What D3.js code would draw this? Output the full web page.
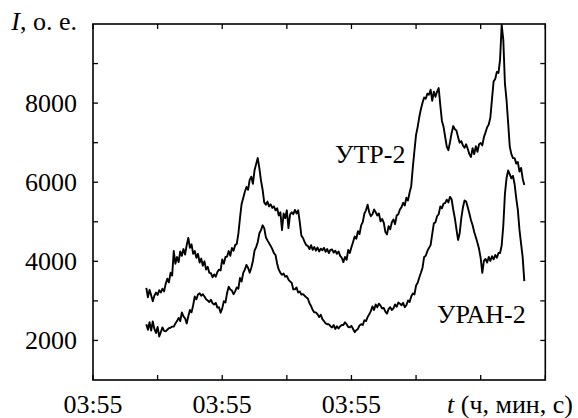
<!DOCTYPE html>
<html><head><meta charset="utf-8"><script src="https://cdn.jsdelivr.net/npm/d3@7"></script></head>
<body style="margin:0">
<svg id="s" width="578" height="418"></svg>
<script>
// ---- data ----
const seriesNames = ["УТР-2", "УРАН-2"];
const timeStart = 8.25;   // axis units (10 units per tick interval)
const timeStep = 0.25;
const utr2 = [
  3330, 3090, 3280, 3140, 2990, 3130, 3210, 3150, 3270, 3210,
  3310, 3240, 3430, 3560, 3470, 3710, 3640, 4260, 3940, 4110,
  3980, 4250, 4140, 4310, 4170, 4410, 4590, 4340, 4430, 4190,
  4260, 4090, 4190, 3970, 4070, 3890, 4000, 3790, 3860, 3710,
  3700, 3600, 3670, 3610, 3730, 3790, 3770, 4050, 3940, 4110,
  4120, 4260, 4140, 4340, 4270, 4410, 4440, 4700, 5100, 5450,
  5600, 5760, 5880, 5810, 6060, 6140, 5960, 6300, 6460, 6610,
  6350, 6040, 5810, 5490, 5430, 5510, 5390, 5440, 5350, 5390,
  5290, 5340, 5160, 5240, 4790, 5210, 5090, 5290, 4840, 5180,
  5240, 5190, 5300, 5210, 5290, 4990, 4650, 4590, 4490, 4410,
  4390, 4310, 4410, 4290, 4360, 4270, 4350, 4250, 4320, 4280,
  4340, 4240, 4310, 4210, 4290, 4300, 4220, 4270, 4190, 4250,
  4140, 4090, 3980, 4110, 4040, 4290, 4210, 4360, 4490, 4630,
  4570, 4760, 4690, 4910, 4990, 5210, 5290, 5430, 5240, 5140,
  5190, 5310, 5240, 5160, 5210, 5010, 5070, 4980, 4740, 4680,
  4890, 4810, 4990, 5060, 4940, 5160, 5190, 5310, 5370, 5480,
  5410, 5610, 5540, 5740, 5900, 6380, 6800, 7200, 7400, 7650,
  7850, 8010, 8140, 8110, 8240, 8210, 8340, 8060, 8290, 8160,
  8290, 8380, 7950, 7550, 7400, 7150, 6900, 6810, 7010, 7240,
  7420, 7340, 7310, 7140, 7000, 7040, 6930, 6870, 6960, 6840,
  6710, 6640, 6860, 6710, 6910, 6770, 6960, 6990, 6930, 7140,
  7260, 7390, 7460, 7640, 8100, 8550, 8610, 8790, 8760, 9100,
  9980, 9600, 8500, 8080, 7500, 6900, 6710, 6610, 6610, 6470,
  6510, 6270, 6360, 6090, 5930
];
const uran2 = [
  2410, 2270, 2460, 2250, 2480, 2290, 2190, 2340, 2100, 2210,
  2330, 2240, 2230, 2270, 2310, 2320, 2350, 2350, 2430, 2490,
  2570, 2490, 2710, 2610, 2560, 2430, 2610, 2770, 2710, 2890,
  3110, 3040, 3160, 3190, 3130, 3170, 3110, 3040, 3010, 2970,
  3030, 2940, 2910, 2950, 2830, 2840, 2700, 2810, 2990, 2960,
  3200, 3360, 3290, 3260, 3170, 3240, 3340, 3310, 3580, 3490,
  3710, 3790, 3910, 3840, 3710, 3840, 4010, 4270, 4360, 4490,
  4710, 4790, 4910, 4840, 4610, 4530, 4460, 4390, 4310, 4210,
  4160, 3940, 3790, 3710, 3660, 3690, 3610, 3630, 3540, 3490,
  3460, 3290, 3290, 3340, 3210, 3240, 3160, 3170, 3130, 3090,
  3060, 2940, 2870, 2770, 2710, 2710, 2660, 2590, 2650, 2540,
  2490, 2430, 2410, 2410, 2360, 2330, 2390, 2290, 2360, 2300,
  2360, 2390, 2390, 2460, 2410, 2340, 2330, 2370, 2290, 2210,
  2260, 2290, 2380, 2410, 2390, 2510, 2490, 2590, 2660, 2740,
  2860, 2770, 2910, 2840, 2930, 2880, 2810, 2820, 2730, 2680,
  2790, 2840, 2770, 2810, 2910, 2850, 2960, 2930, 2890, 2950,
  2840, 2890, 3010, 2970, 3110, 3190, 3160, 3390, 3460, 3590,
  3710, 3840, 4110, 4140, 4260, 4340, 4410, 4690, 4960, 4990,
  5140, 5190, 5390, 5340, 5460, 5470, 5560, 5490, 5630, 5570,
  5310, 5090, 4810, 4540, 4710, 5090, 5360, 5540, 5510, 5370,
  5210, 5040, 4910, 4740, 4610, 4470, 4310, 4080, 3710, 4010,
  4060, 3970, 4110, 4010, 4130, 4050, 4160, 4090, 4210, 4210,
  4400, 4900, 5700, 6100, 6300, 6200, 6100, 6160, 5950, 5600,
  5300, 4800, 4450, 4100, 3500
];
const xTickValues = [0, 10, 20, 30, 40, 50, 60, 70];
const xTickLabels = ["03:55", "", "03:55", "", "03:55", "", "", ""];
const yTickValues = [2000, 3000, 4000, 5000, 6000, 7000, 8000, 9000];
const yTickLabels = ["2000", "", "4000", "", "6000", "", "8000", ""];
const yTitle = ", о. е.";
const xTitle = " (ч, мин, с)";

// ---- layout ----
const L = 93, R = 545.3, T = 24, B = 380;
const svg = d3.select("#s");
const x = d3.scaleLinear().domain([0, 70]).range([L, R]);
const y = d3.scaleLinear().domain([1000, 10000]).range([B, T]);

// texts first, same style as a plain text list
const labels = [];
xTickValues.forEach((v, i) => { if (xTickLabels[i]) labels.push({ t: xTickLabels[i], x: x(v), y: 413, a: "middle" }); });
yTickValues.forEach((v, i) => { if (yTickLabels[i]) labels.push({ t: yTickLabels[i], x: L - 16, y: y(v) + 8.5, a: "end" }); });
labels.push({ t: seriesNames[0], x: 335, y: 163, a: "start" });
labels.push({ t: seriesNames[1], x: 437, y: 323, a: "start" });
labels.push({ it: "I", t: yTitle, x: 77, y: 30, a: "end" });
labels.push({ it: "t", t: xTitle, x: 447, y: 413, a: "start" });

svg.selectAll("text").data(labels).join("text")
  .attr("x", d => d.x).attr("y", d => d.y)
  .attr("text-anchor", d => d.a)
  .style("font-family", d => `"Liberation Serif"`)
  .style("font-size", "26px")
  .each(function (d) {
    const s = d3.select(this);
    if (d.it) s.append("tspan").style("font-style", "italic").text(d.it);
    s.append("tspan").text(d.t);
  });

// ticks from scales (inward, all four sides)
const tk = 5;
const tickData = [];
xTickValues.forEach(v => {
  tickData.push({ x1: x(v), y1: B, x2: x(v), y2: B - tk });
  tickData.push({ x1: x(v), y1: T, x2: x(v), y2: T + tk });
});
yTickValues.forEach(v => {
  tickData.push({ x1: L, y1: y(v), x2: L + tk, y2: y(v) });
  tickData.push({ x1: R, y1: y(v), x2: R - tk, y2: y(v) });
});
svg.selectAll("line").data(tickData).join("line")
  .attr("x1", d => d.x1).attr("y1", d => d.y1).attr("x2", d => d.x2).attr("y2", d => d.y2)
  .attr("stroke", "#000").attr("stroke-width", 1.3);

svg.append("rect").attr("x", L).attr("y", T).attr("width", R - L).attr("height", B - T)
  .attr("fill", "none").attr("stroke", "#000").attr("stroke-width", 1.6);

// lines
const line = d3.line()
  .x((d, i) => x(timeStart + timeStep * i))
  .y(d => y(d));
[utr2, uran2].forEach(s => {
  svg.append("path").datum(s).attr("d", line)
    .attr("fill", "none").attr("stroke", "#000").attr("stroke-width", 1.9)
    .attr("stroke-linejoin", "round");
});
</script></body></html>
